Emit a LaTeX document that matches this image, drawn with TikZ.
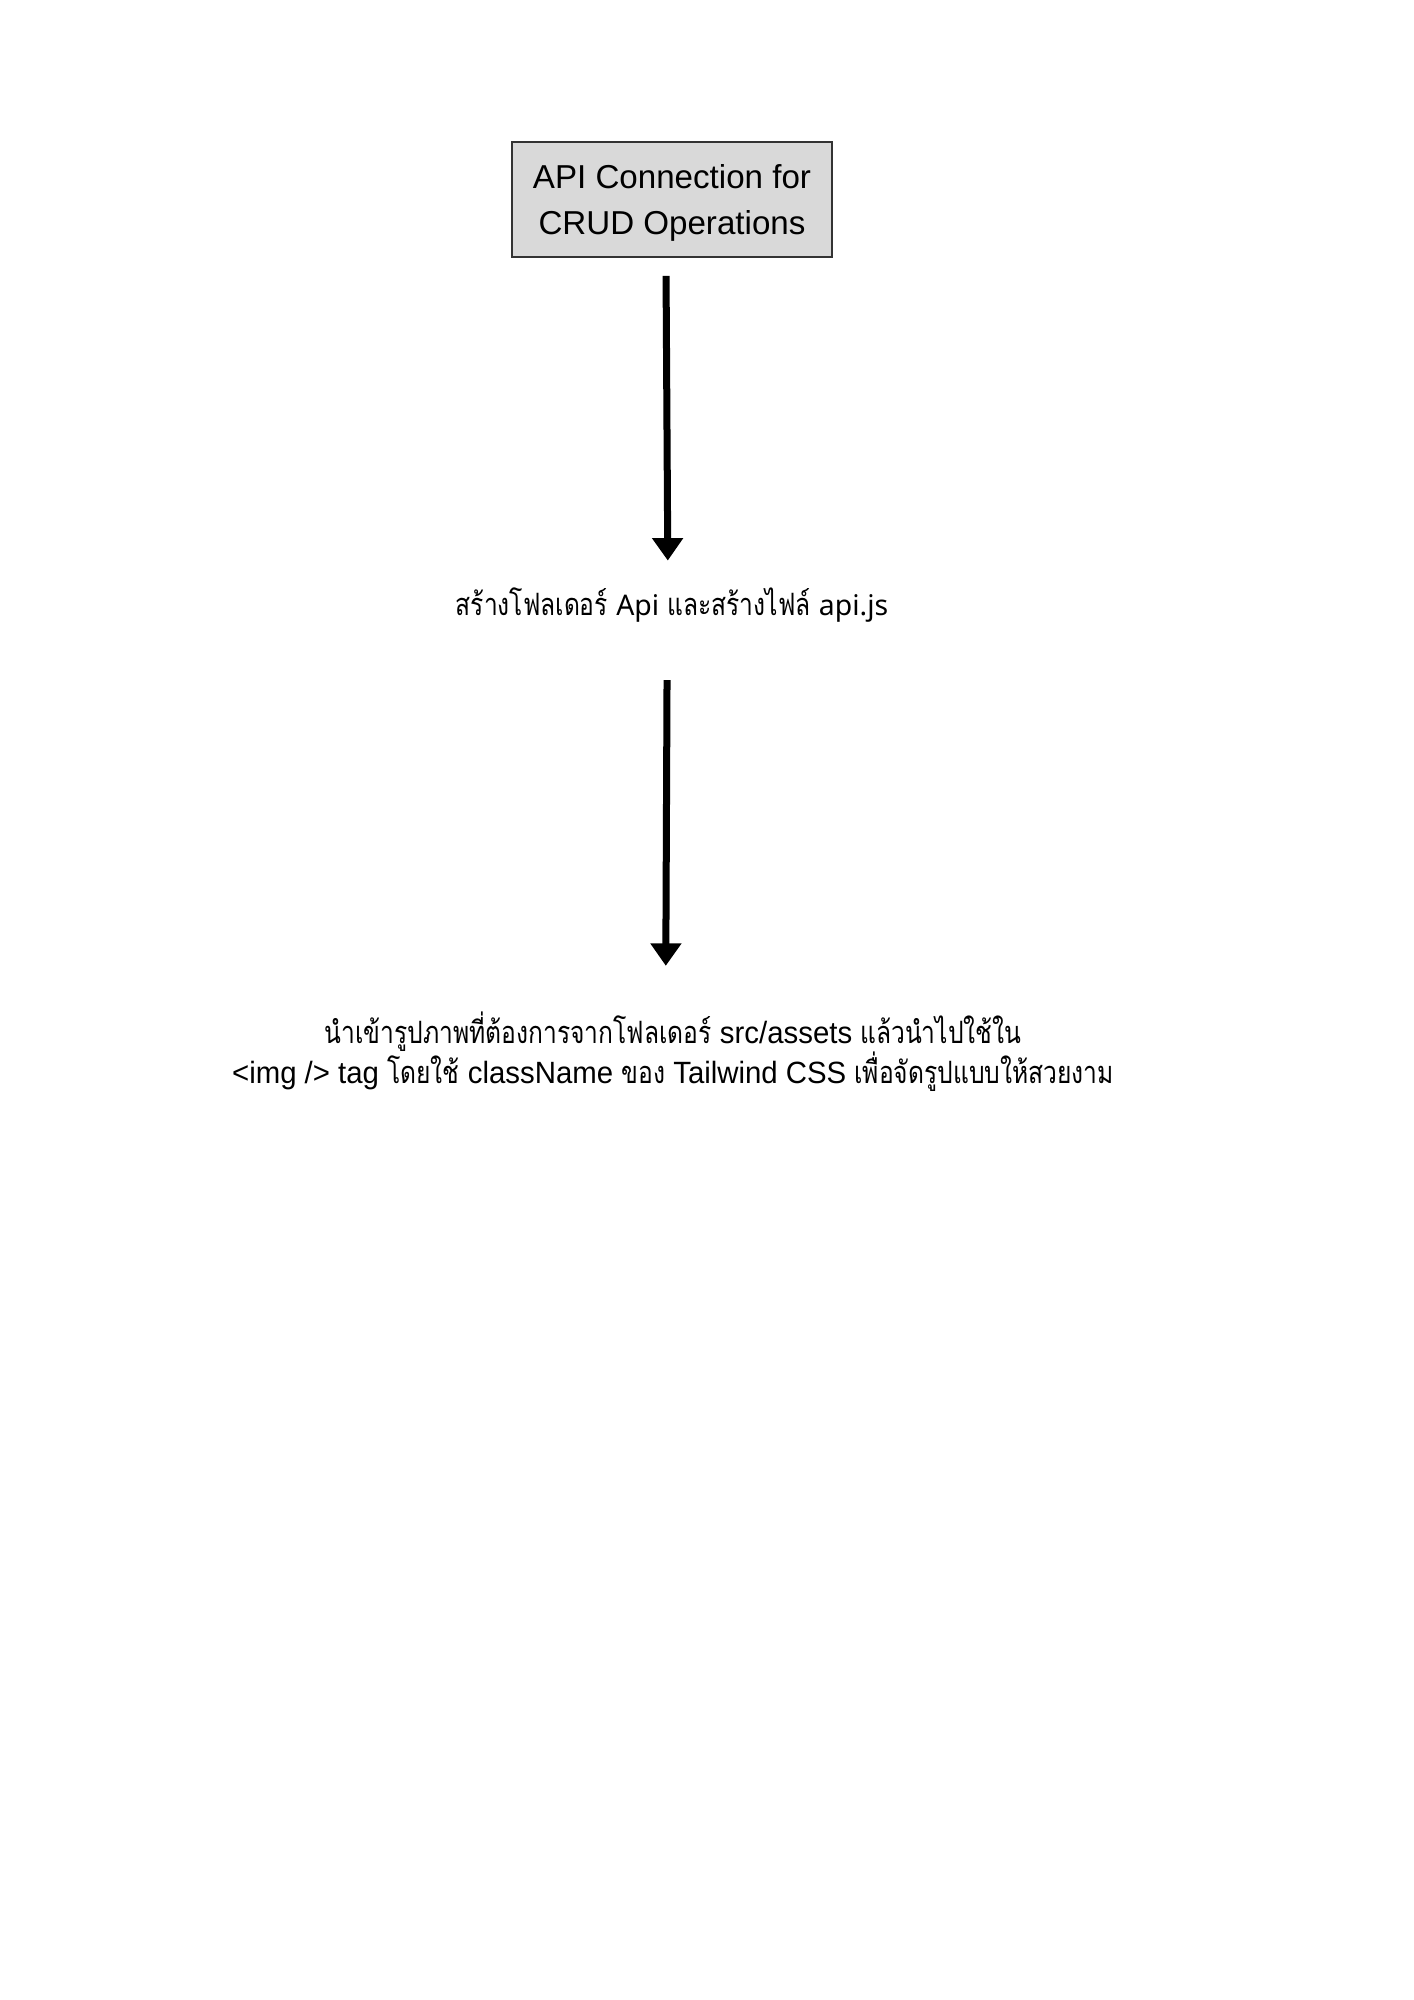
\documentclass[tikz,border=0pt]{standalone}
\usepackage{fontspec}
\setmainfont{Liberation Sans}
\newfontfamily\thaifont[Script=Thai,FakeStretch=0.80]{Loma}
\newfontfamily\latinfont{Noto Sans}
\newfontfamily\narrowfont[FakeStretch=0.955]{Liberation Sans}
\newfontfamily\narrowthai[Script=Thai,FakeStretch=0.80]{Loma}
\usetikzlibrary{arrows.meta}

\tikzset{
    titlebox/.style={draw=black!80,line width=0.6pt,fill=black!15,minimum width=47.5mm,minimum height=17.1mm,inner sep=0pt,text depth=0pt,align=center,font=\fontsize{14}{19.5}\selectfont},
    steptext/.style={inner sep=0pt,align=center},
    flow/.style={line width=1.04mm,-{Triangle[width=12.6pt,length=9.5pt]}}
}

\begin{document}
\begin{tikzpicture}[x=0.14851mm,y=-0.14851mm]
    \useasboundingbox[fill=white](0,0)rectangle(1414,2000);

    \node[titlebox](api)at(672,199.5){API Connection for\\CRUD Operations};
    \node[steptext,anchor=base,font=\fontsize{13}{15}\selectfont](folder)at(672,615){\thaifont สร้างโฟลเดอร์ {\latinfont\fontsize{12}{15}\selectfont Api} และสร้างไฟล์ {\latinfont\fontsize{12}{15}\selectfont api.js}};
    \node[steptext,font=\fontsize{13}{17}\selectfont](image)at(673,1052){\narrowthai นำเข้ารูปภาพที่ต้องการจากโฟลเดอร์ \narrowfont src/assets \narrowthai แล้วนำไปใช้ใน\\\narrowfont <img /> tag \narrowthai โดยใช้ \narrowfont className \narrowthai ของ \narrowfont Tailwind CSS \narrowthai เพื่อจัดรูปแบบให้สวยงาม};

    \draw[flow,shorten <=2.7mm,shorten >=3.9mm]([xshift=-0.9mm]api.south)--([xshift=-0.6mm]folder.north);
    \draw[flow,shorten <=8.6mm,shorten >=6.8mm]([xshift=-0.7mm]folder.south)--([xshift=-1.1mm]image.north);
\end{tikzpicture}
\end{document}
